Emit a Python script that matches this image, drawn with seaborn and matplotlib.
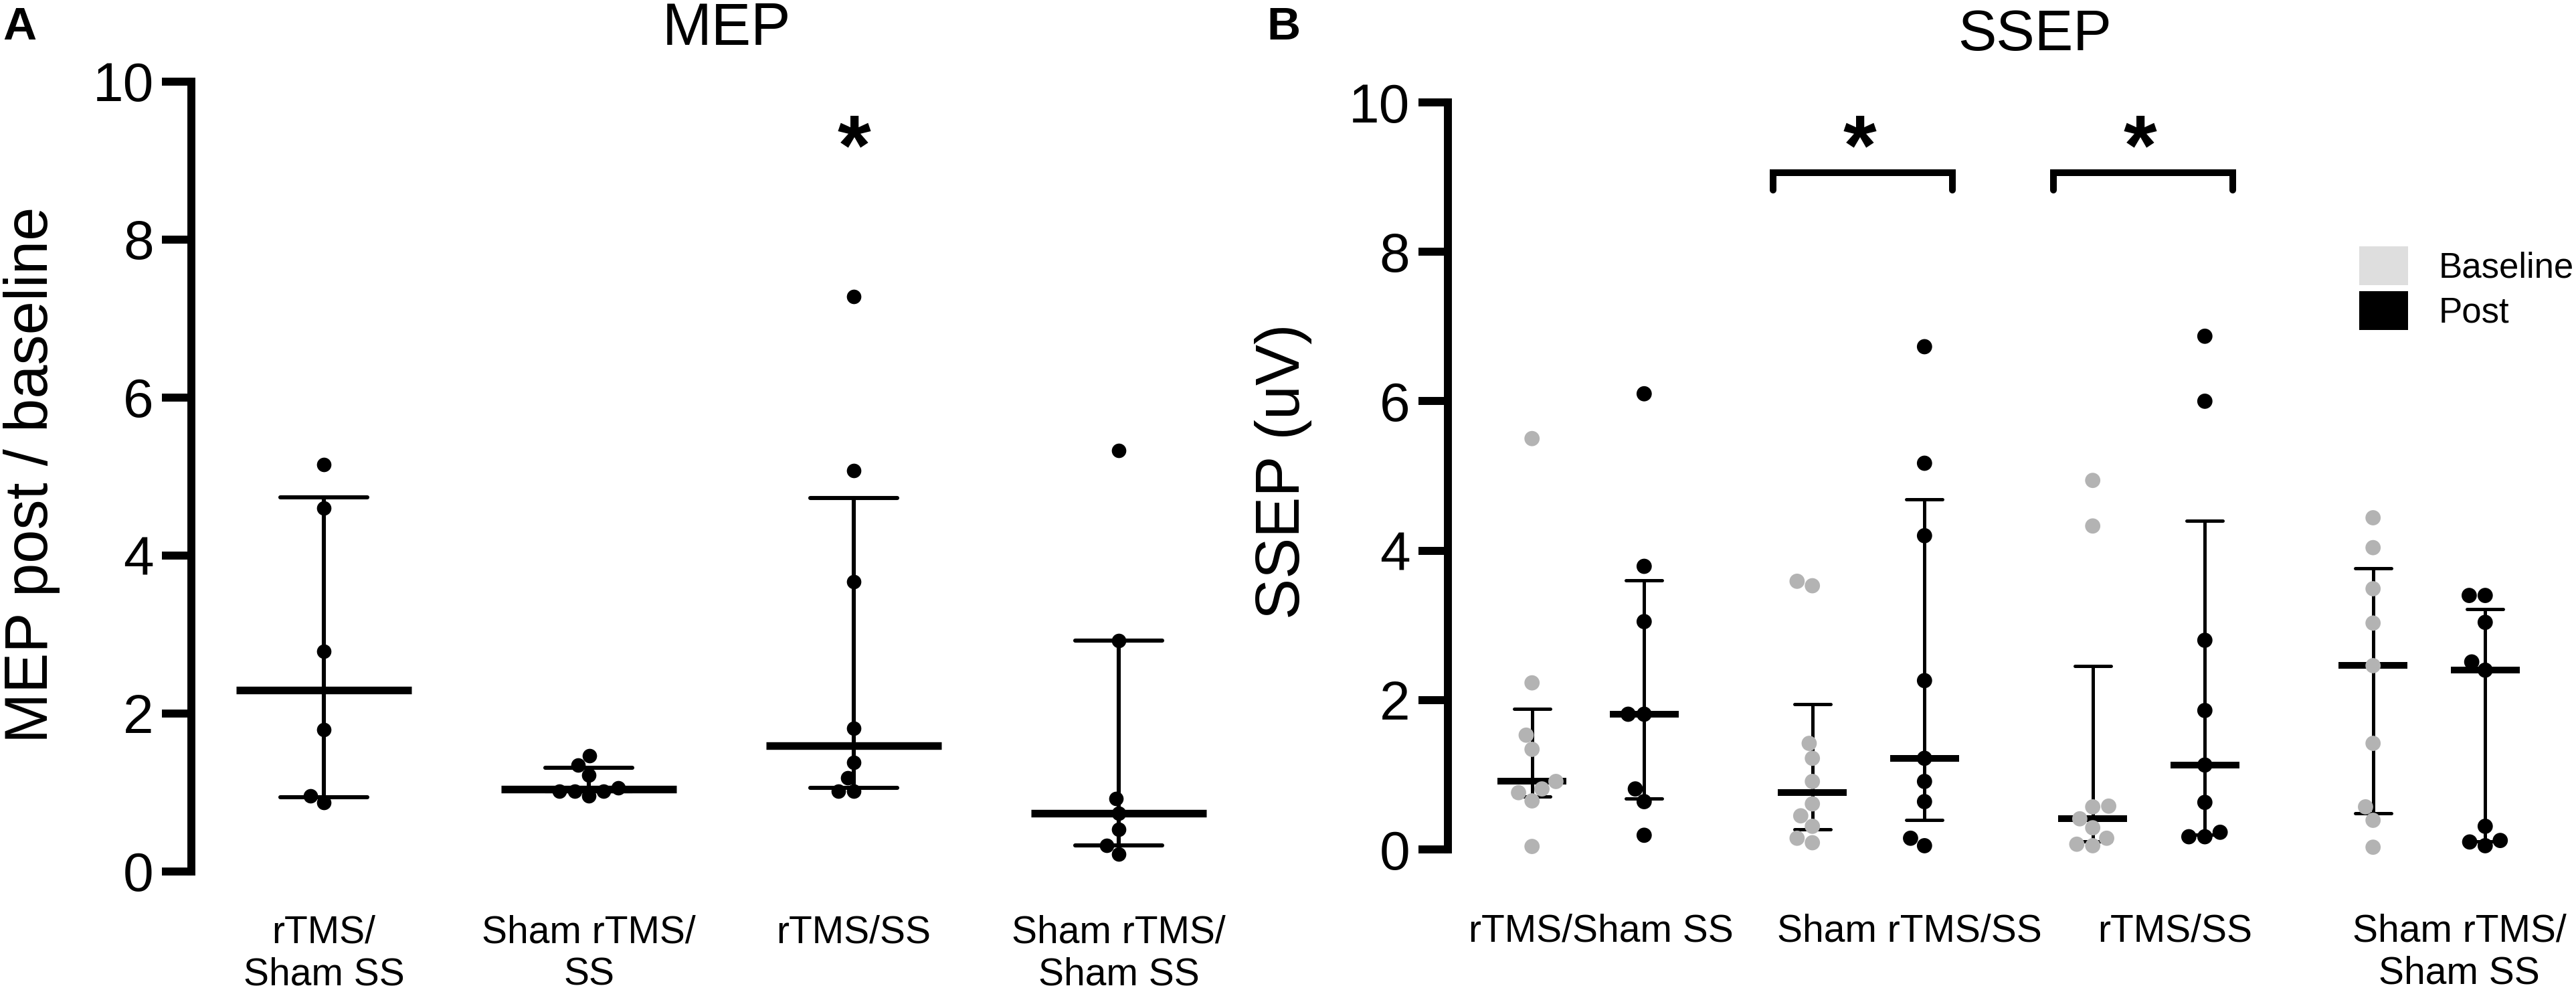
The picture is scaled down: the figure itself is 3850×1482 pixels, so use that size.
import numpy as np
import pandas as pd
import matplotlib.pyplot as plt
import seaborn as sns
from matplotlib.patches import Patch
from matplotlib.transforms import ScaledTranslation
import warnings
warnings.filterwarnings('ignore')

# ── DATOS ──
# Panel A: MEP post / baseline
mep_groups = ['rTMS/\nSham SS', 'Sham rTMS/\nSS', 'rTMS/SS', 'Sham rTMS/\nSham SS']
mep_rtms_shamss = [5.15, 4.60, 2.79, 1.80, 0.96, 0.87]
mep_shamrtms_ss = [1.47, 1.35, 1.22, 1.06, 1.02, 1.02, 1.02, 0.96]
mep_rtms_ss = [7.28, 5.08, 3.67, 1.81, 1.38, 1.19, 1.02, 1.02]
mep_shamrtms_shamss = [5.33, 2.92, 0.92, 0.74, 0.53, 0.33, 0.22]

# Panel B: SSEP (uV), baseline y post
ssep_groups = ['rTMS/Sham SS', 'Sham rTMS/SS', 'rTMS/SS', 'Sham rTMS/\nSham SS']
ssep_base_rtms_shamss = [5.50, 2.23, 1.53, 1.34, 0.91, 0.81, 0.76, 0.65, 0.04]
ssep_post_rtms_shamss = [6.10, 3.79, 3.05, 1.81, 1.81, 0.81, 0.64, 0.19]
ssep_base_shamrtms_ss = [3.59, 3.53, 1.42, 1.22, 0.91, 0.61, 0.45, 0.31, 0.15, 0.09]
ssep_post_shamrtms_ss = [6.73, 5.17, 4.20, 2.26, 1.22, 0.91, 0.64, 0.15, 0.05]
ssep_base_rtms_ss = [4.94, 4.33, 0.58, 0.57, 0.41, 0.29, 0.15, 0.07, 0.05]
ssep_post_rtms_ss = [6.87, 6.00, 2.80, 1.86, 1.13, 0.63, 0.23, 0.17, 0.17]
ssep_base_shamrtms_shamss = [4.44, 4.04, 3.49, 3.03, 2.46, 1.42, 0.57, 0.39, 0.03]
ssep_post_shamrtms_shamss = [3.40, 3.40, 3.04, 2.51, 2.40, 0.31, 0.12, 0.10, 0.05]
ssep_times = ['Baseline', 'Post']

mep_star_groups = [2]
ssep_bracket_groups = [1, 2]

# ── TABLAS ──
mep_vals = [mep_rtms_shamss, mep_shamrtms_ss, mep_rtms_ss, mep_shamrtms_shamss]
df_a = pd.DataFrame([(g, v) for g, vals in zip(mep_groups, mep_vals) for v in vals],
                    columns=['grupo', 'valor'])

ssep_base = [ssep_base_rtms_shamss, ssep_base_shamrtms_ss, ssep_base_rtms_ss, ssep_base_shamrtms_shamss]
ssep_post = [ssep_post_rtms_shamss, ssep_post_shamrtms_ss, ssep_post_rtms_ss, ssep_post_shamrtms_shamss]
filas = []
for g, b, p in zip(ssep_groups, ssep_base, ssep_post):
    filas += [(g, 'Baseline', v) for v in b]
    filas += [(g, 'Post', v) for v in p]
df_b = pd.DataFrame(filas, columns=['grupo', 'momento', 'valor'])


def iqr(v):
    # mediana con rango intercuartil (cuartiles tipo GraphPad)
    return (np.percentile(v, 25, method='weibull'), np.percentile(v, 75, method='weibull'))


sns.set_style('white')
plt.rcParams['font.family'] = ['Liberation Sans', 'DejaVu Sans']
for k in ['text.color', 'axes.edgecolor', 'axes.labelcolor', 'xtick.color', 'ytick.color']:
    plt.rcParams[k] = 'black'

fig = plt.figure(figsize=(19.25, 7.41), dpi=200)
ax_a = fig.add_axes([0.07429, 0.12146, 0.41143, 0.79622])
ax_b = fig.add_axes([0.56208, 0.14372, 0.43532, 0.75304])

gris = '#b3b3b3'
pal_negro = {'Baseline': 'black', 'Post': 'black'}
pal_puntos = {'Baseline': gris, 'Post': 'black'}

# ── PANEL A ──
sns.boxplot(data=df_a, x='grupo', y='valor', order=mep_groups, width=0.66,
            showbox=False, showcaps=False, showfliers=False,
            whiskerprops={'visible': False},
            medianprops={'color': 'black', 'linewidth': 4.1},
            ax=ax_a)
sns.pointplot(data=df_a, x='grupo', y='valor', order=mep_groups,
              estimator=np.median, errorbar=iqr, capsize=0.33, color='black',
              marker='', linestyle='none', err_kws={'linewidth': 2.2}, ax=ax_a)
ax_a.set_xlim(-0.659, 3.5)
ax_a.set_ylim(0, 10)
sns.swarmplot(data=df_a, x='grupo', y='valor', order=mep_groups, color='black',
              size=7.8, linewidth=0, zorder=5, clip_on=False, ax=ax_a)

for g in mep_star_groups:
    ax_a.text(g, 8.83, '*', ha='center', va='baseline', fontsize=46, fontweight='bold')

# ── PANEL B ──
sns.boxplot(data=df_b, x='grupo', y='valor', hue='momento', order=ssep_groups,
            hue_order=ssep_times, palette=pal_negro, width=0.8, gap=0.385,
            showbox=False, showcaps=False, showfliers=False,
            whiskerprops={'visible': False},
            medianprops={'color': 'black', 'linewidth': 3.6},
            legend=False, ax=ax_b)
sns.pointplot(data=df_b, x='grupo', y='valor', hue='momento', order=ssep_groups,
              hue_order=ssep_times, palette=pal_negro, dodge=0.4,
              estimator=np.median, errorbar=iqr, capsize=0.128,
              marker='', linestyle='none', err_kws={'linewidth': 1.8},
              legend=False, ax=ax_b)
ax_b.set_xlim(-0.4349, 3.4628)
ax_b.set_ylim(0, 10)
sns.swarmplot(data=df_b, x='grupo', y='valor', hue='momento', order=ssep_groups,
              hue_order=ssep_times, palette=pal_puntos, dodge=True, size=8.2,
              linewidth=0, zorder=5, clip_on=False, legend=False, ax=ax_b)

for g in ssep_bracket_groups:
    x0, x1 = g - 0.34, g + 0.30
    ax_b.plot([x0, x0, x1, x1], [8.83, 9.06, 9.06, 8.83], color='black', lw=3.6,
              solid_capstyle='round', solid_joinstyle='miter', clip_on=False)
    ax_b.text(g - 0.03, 9.04, '*', ha='center', va='baseline', fontsize=46, fontweight='bold')

# ── EJES ──
for ax, pad_x in [(ax_a, 23.4), (ax_b, 34.5)]:
    for s in ['top', 'right', 'bottom']:
        ax.spines[s].set_visible(False)
    ax.spines['left'].set_linewidth(4.3)
    ax.spines['left'].set_bounds(0, 10)
    ax.spines['left'].set_capstyle('projecting')
    ax.set_yticks([0, 2, 4, 6, 8, 10])
    ax.tick_params(axis='y', length=16, width=4.3, pad=4.3, labelsize=29.5, left=True)
    ax.tick_params(axis='x', length=0, pad=pad_x, labelsize=20.5)
    ax.set_xlabel('')
    ax.grid(False)

ax_a.set_xticks(range(len(mep_groups)))
ax_a.set_xticklabels(mep_groups)
ax_b.set_xticks(range(len(ssep_groups)))
ax_b.set_xticklabels(ssep_groups)

# las etiquetas de B no están justo centradas en cada grupo
desplaz_px = [19, 61, 39, 45]
for lab, dx in zip(ax_b.get_xticklabels(), desplaz_px):
    lab.set_transform(lab.get_transform() + ScaledTranslation(dx / 200, 0, fig.dpi_scale_trans))

ax_a.set_ylabel('MEP post / baseline', fontsize=32.5)
ax_a.yaxis.set_label_coords(-0.124, 0.502)
ax_b.set_ylabel('SSEP (uV)', fontsize=33)
ax_b.yaxis.set_label_coords(-0.121, 0.506)

# títulos y letras de panel
fig.text(1086 / 3850, 1 - 67 / 1482, 'MEP', ha='center', va='baseline', fontsize=32)
fig.text(3041 / 3850, 1 - 75 / 1482, 'SSEP', ha='center', va='baseline', fontsize=31)
fig.text(4 / 3850, 1 - 59 / 1482, 'A', ha='left', va='baseline', fontsize=25, fontweight='bold')
fig.text(1893 / 3850, 1 - 59 / 1482, 'B', ha='left', va='baseline', fontsize=25, fontweight='bold')

# leyenda
handles = [Patch(facecolor='#dedede', edgecolor='none', label='Baseline'),
           Patch(facecolor='black', edgecolor='none', label='Post')]
fig.legend(handles=handles, loc='upper left', bbox_to_anchor=(3526 / 3850, 1 - 368 / 1482),
           frameon=False, fontsize=19, handlelength=1.38, handleheight=1.32,
           labelspacing=0.17, handletextpad=0.87, borderpad=0, borderaxespad=0)

fig.savefig('out.png', dpi=200)
plt.close(fig)
